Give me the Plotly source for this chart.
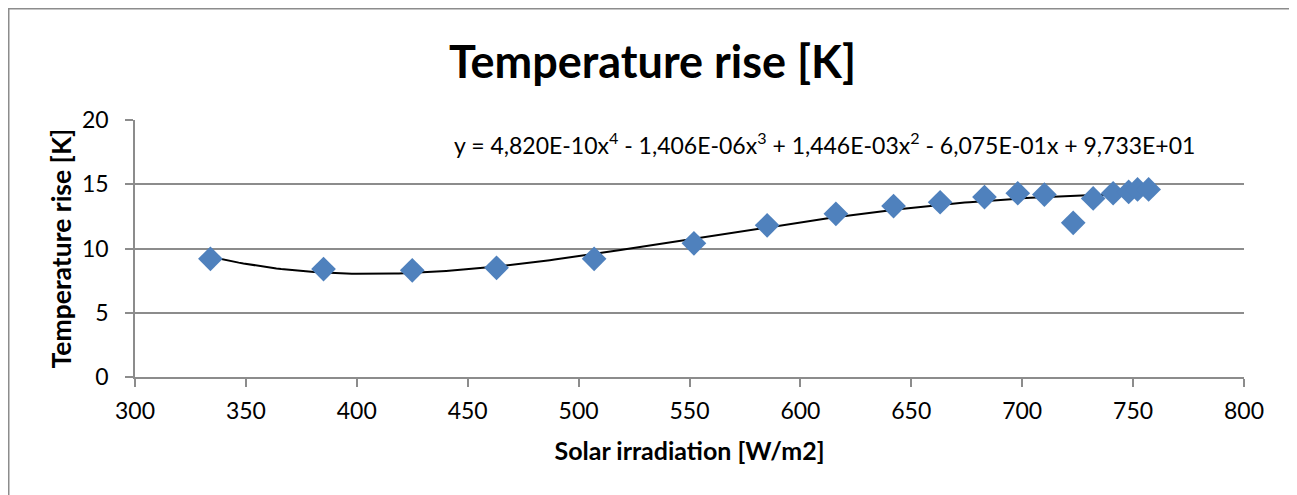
import numpy as np
import plotly.graph_objects as go

# Data
irradiation = [334, 385, 425, 463, 507, 552, 585, 616, 642, 663,
               683, 698, 710, 723, 732, 741, 748, 752, 757]
temp_rise = [9.2, 8.4, 8.3, 8.5, 9.2, 10.4, 11.8, 12.7, 13.3, 13.6,
             14.0, 14.3, 14.2, 12.0, 13.9, 14.3, 14.4, 14.6, 14.6]

x_ticks = [300, 350, 400, 450, 500, 550, 600, 650, 700, 750, 800]
y_ticks = [0, 5, 10, 15, 20]

chart_title = "Temperature rise [K]"
x_title = "Solar irradiation [W/m2]"
y_title = "Temperature rise [K]"
equation = ("y = 4,820E-10x<sup>4</sup> - 1,406E-06x<sup>3</sup> + "
            "1,446E-03x<sup>2</sup> - 6,075E-01x + 9,733E+01")

# 4th-order polynomial trendline (as the spreadsheet computes it)
coef = np.polyfit(irradiation, temp_rise, 4)
xs = np.linspace(min(irradiation), max(irradiation), 200)
ys = np.polyval(coef, xs)

FONT = "Lato"
GRID = "#8c8c8c"

fig = go.Figure()
fig.add_trace(go.Scatter(
    x=xs, y=ys, mode="lines",
    line=dict(color="black", width=2),
    hoverinfo="skip", showlegend=False))
fig.add_trace(go.Scatter(
    x=irradiation, y=temp_rise, mode="markers",
    marker=dict(symbol="diamond", size=19, color="#4F81BD",
                line=dict(width=0)),
    showlegend=False))

# page has an 8px body margin, so figure coords = page coords - 8
OFF = 8
W, H = 1297 - OFF, 495 - OFF
L, R, T, B = 135 - OFF, 53, 120 - OFF, 118
pw, ph = W - L - R, H - T - B


def px_x(page_x):
    return (page_x - OFF - L) / pw


def px_y(page_y):
    return (H - B - (page_y - OFF)) / ph


fig.update_layout(
    width=W, height=H,
    margin=dict(l=L, r=R, t=T, b=B),
    paper_bgcolor="white", plot_bgcolor="white",
    font=dict(family=FONT, color="black"),
    title=dict(text="<b>" + chart_title + "</b>", x=0.5, xanchor="center",
               xref="container",
               y=1 - (62 - OFF) / H, yanchor="middle",
               font=dict(size=45, family=FONT, color="black")),
    xaxis=dict(range=[300, 800], tickvals=x_ticks,
               ticks="outside", ticklen=8, tickcolor=GRID, tickwidth=1.5,
               showline=True, linecolor=GRID, linewidth=1.5,
               showgrid=False, zeroline=False,
               tickfont=dict(size=23, family=FONT),
               ticklabelstandoff=5,
               title=dict(text="<b>" + x_title + "</b>",
                          font=dict(size=25, family=FONT), standoff=19)),
    yaxis=dict(range=[0, 20], tickvals=y_ticks,
               ticks="outside", ticklen=8, tickcolor=GRID, tickwidth=1.5,
               showline=True, linecolor=GRID, linewidth=1.5,
               showgrid=True, gridcolor=GRID, gridwidth=1.5,
               zeroline=False,
               tickfont=dict(size=23, family=FONT),
               ticklabelstandoff=12,
               title=dict(text="<b>" + y_title + "</b>",
                          font=dict(size=26.5, family=FONT), standoff=3)),
)

fig.add_annotation(text=equation, xref="paper", yref="paper",
                   x=px_x(452), y=px_y(143),
                   xanchor="left", yanchor="middle", showarrow=False,
                   font=dict(size=23, family=FONT, color="black"))

# outer chart-area border
fig.add_shape(type="rect", xref="paper", yref="paper",
              x0=px_x(8.75), x1=px_x(1293),
              y0=px_y(520), y1=px_y(8.75),
              line=dict(color=GRID, width=1.5), fillcolor="rgba(0,0,0,0)",
              layer="below")

fig.write_html("out.html")
